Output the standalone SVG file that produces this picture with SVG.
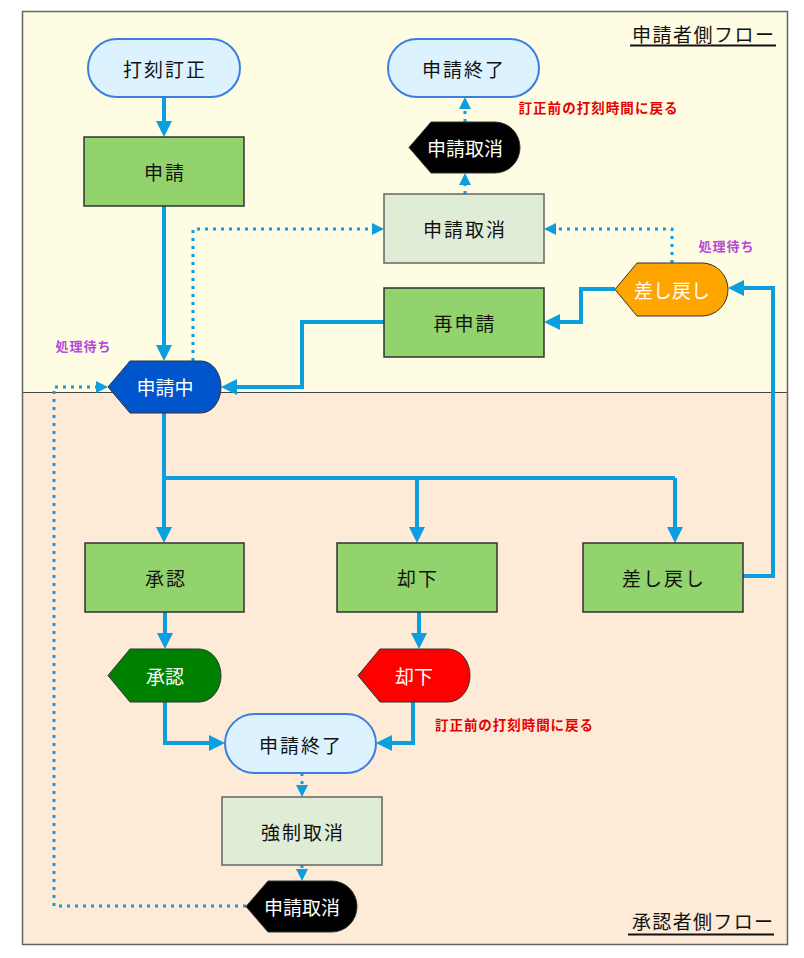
<svg xmlns="http://www.w3.org/2000/svg" width="804" height="958" viewBox="0 0 804 958">
<style>
text{font-family:"Noto Sans CJK JP","Noto Sans",sans-serif;}
.t{font-size:19px;fill:#111;text-anchor:middle;dominant-baseline:central;letter-spacing:2px;}
.w{font-size:19px;fill:#fff;text-anchor:middle;dominant-baseline:central;}
.box{fill:#92D36E;stroke:#333;stroke-width:1.5;}
.lbox{fill:#E0EDD6;stroke:#666;stroke-width:1.5;}
.term{fill:#DDF2FF;stroke:#3A7FDD;stroke-width:2;}
.hex{stroke:#333;stroke-width:1;}
.c{fill:none;stroke:#0C9FE0;stroke-width:4;marker-end:url(#a);}
.cn{fill:none;stroke:#0C9FE0;stroke-width:4;}
.d{fill:none;stroke:#0C9FE0;stroke-width:3;stroke-dasharray:3 5;marker-end:url(#b);}
.red{font-size:13.5px;font-weight:bold;fill:#E60000;text-anchor:middle;dominant-baseline:central;}
.pur{font-size:13px;font-weight:bold;fill:#B548D8;text-anchor:middle;dominant-baseline:central;}
.ttl{font-size:19px;fill:#111;}
</style>
<defs>
<marker id="a" viewBox="0 0 16 16" refX="8" refY="8" markerWidth="16" markerHeight="16" markerUnits="userSpaceOnUse" orient="auto"><path d="M0,0 L16,8 L0,16 Z" fill="#0C9FE0"/></marker>
<marker id="b" viewBox="0 0 12 12" refX="6" refY="6" markerWidth="12" markerHeight="12" markerUnits="userSpaceOnUse" orient="auto"><path d="M0,0 L12,6 L0,12 Z" fill="#0C9FE0"/></marker>
</defs>
<g id="background">
<rect x="22.5" y="11.5" width="765" height="381" fill="#FEFCE2"/>
<rect x="22.5" y="392.5" width="765" height="552" fill="#FDEBD7"/>
<line x1="22.5" y1="392.5" x2="787.5" y2="392.5" stroke="#444" stroke-width="1"/>
<rect x="22.5" y="11.5" width="765" height="933" fill="none" stroke="#666" stroke-width="1.5"/>
</g>
<g id="titles">
<text class="ttl" x="632" y="42" textLength="142" lengthAdjust="spacing">申請者側フロー</text>
<line x1="630" y1="45.5" x2="776" y2="45.5" stroke="#111" stroke-width="2"/>
<text class="ttl" x="632" y="929" textLength="141" lengthAdjust="spacing">承認者側フロー</text>
<line x1="628" y1="934.5" x2="774" y2="934.5" stroke="#111" stroke-width="2"/>
</g>
<g id="connectors">
<path class="c" d="M164,97 V129"/>
<path class="c" d="M164,206 V353"/>
<path class="cn" d="M164,413 V478 H675"/>
<path class="c" d="M164,478 V535"/>
<path class="c" d="M417,478 V535"/>
<path class="c" d="M675,478 V535"/>
<path class="c" d="M165,612 V641"/>
<path class="c" d="M419,612 V641"/>
<path class="c" d="M165,702 V743 H217"/>
<path class="c" d="M413,702 V743 H384"/>
<path class="c" d="M743,576 H773 V288 H736"/>
<path class="c" d="M615,289 H581 V322 H552"/>
<path class="c" d="M384,322 H302 V387 H229"/>
<path class="d" d="M193,361 V229 H378"/>
<path class="d" d="M672,263 V229 H550"/>
<path class="d" d="M465,194 V179"/>
<path class="d" d="M465,122 V103"/>
<path class="d" d="M302,773 V791"/>
<path class="d" d="M302,865 V875"/>
<path class="d" d="M246,906 H54 V387 H102"/>
</g>
<g id="n-dakoku"><rect class="term" x="88" y="39" width="152" height="58" rx="29"/><text class="t" x="165" y="68">打刻訂正</text></g>
<g id="n-shinsei"><rect class="box" x="84" y="137" width="160" height="69"/><text class="t" x="165" y="171">申請</text></g>
<g id="n-shuryo-top"><rect class="term" x="388" y="39" width="151" height="58" rx="29"/><text class="t" x="464" y="68">申請終了</text></g>
<g id="n-torikeshi-hex-top"><path class="hex" fill="#000" d="M409,147.5 L431,122 L495,122 A25 25.5 0 0 1 495,173 L431,173 Z"/><text class="w" x="465" y="147">申請取消</text></g>
<g id="n-torikeshi-box"><rect class="lbox" x="384" y="194" width="160" height="69"/><text class="t" x="465" y="228">申請取消</text></g>
<g id="n-saishinsei"><rect class="box" x="384" y="288" width="160" height="69"/><text class="t" x="465" y="322">再申請</text></g>
<g id="n-sashimodoshi-hex"><path class="hex" fill="#FFA500" stroke="#7a5a20" d="M615,289.5 L637,263 L702,263 A26 26.5 0 0 1 702,316 L637,316 Z"/><text class="w" x="672" y="289">差し戻し</text></g>
<g id="n-shinseichu"><path class="hex" fill="#0055CC" stroke="#1a2a55" d="M108,387 L130,361 L201,361 A20 26 0 0 1 201,413 L130,413 Z"/><text class="w" x="165" y="386">申請中</text></g>
<g id="n-shonin-box"><rect class="box" x="85" y="543" width="159" height="69"/><text class="t" x="166" y="577">承認</text></g>
<g id="n-kyakka-box"><rect class="box" x="337" y="543" width="160" height="69"/><text class="t" x="418" y="577">却下</text></g>
<g id="n-sashimodoshi-box"><rect class="box" x="583" y="543" width="160" height="69"/><text class="t" x="664" y="577">差し戻し</text></g>
<g id="n-shonin-hex"><path class="hex" fill="#008000" stroke="#0a4a0a" d="M108,675.5 L130,649 L199,649 A22 26.5 0 0 1 199,702 L130,702 Z"/><text class="w" x="165" y="675">承認</text></g>
<g id="n-kyakka-hex"><path class="hex" fill="#FF0000" stroke="#7a1010" d="M358,675.5 L380,649 L448,649 A22 26.5 0 0 1 448,702 L380,702 Z"/><text class="w" x="414" y="675">却下</text></g>
<g id="n-shuryo-bottom"><rect class="term" stroke="#2A4FA0" x="225" y="714" width="151" height="59" rx="29.5"/><text class="t" x="301" y="744">申請終了</text></g>
<g id="n-kyosei"><rect class="lbox" x="222" y="797" width="160" height="68"/><text class="t" x="303" y="831">強制取消</text></g>
<g id="n-torikeshi-hex-bottom"><path class="hex" fill="#000" d="M246,906.5 L268,881 L332,881 A25 25.5 0 0 1 332,932 L268,932 Z"/><text class="w" x="302" y="906">申請取消</text></g>
<g id="labels">
<text class="red" x="598" y="107" textLength="159" lengthAdjust="spacing">訂正前の打刻時間に戻る</text>
<text class="red" x="514" y="724" textLength="158" lengthAdjust="spacing">訂正前の打刻時間に戻る</text>
<text class="pur" x="83" y="345" textLength="55" lengthAdjust="spacing">処理待ち</text>
<text class="pur" x="726" y="245" textLength="55" lengthAdjust="spacing">処理待ち</text>
</g>
</svg>
